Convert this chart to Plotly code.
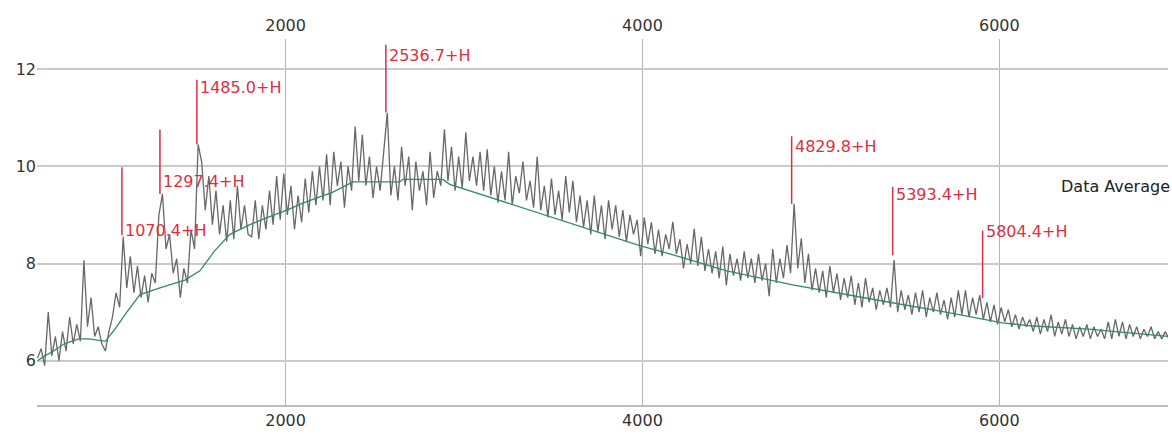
import plotly.graph_objects as go

# ---- data ----
mass_start = 610
mass_step = 20
intensity = [
    # 610 - 990
    6.05, 6.25, 5.9, 7.0, 6.1, 6.5, 6.0, 6.6, 6.2, 6.9,
    6.35, 6.75, 6.4, 8.07, 6.7, 7.3, 6.5, 6.7, 6.35, 6.2,
    # 1010 - 1390
    6.6, 6.9, 7.4, 7.1, 8.55, 7.5, 8.15, 7.4, 7.95, 7.3,
    7.75, 7.2, 7.8, 7.6, 9.0, 9.43, 8.3, 8.6, 7.8, 8.1,
    # 1410 - 1790
    7.3, 7.9, 7.6, 8.7, 8.3, 10.45, 10.08, 9.1, 9.8, 8.8,
    9.5, 8.6, 9.2, 8.45, 9.3, 8.5, 9.6, 8.7, 9.2, 8.6,
    # 1810 - 2190
    8.55, 9.3, 8.5, 9.2, 8.7, 9.5, 8.8, 9.8, 8.9, 9.85,
    9.0, 9.6, 8.7, 9.4, 8.85, 9.75, 9.05, 9.9, 9.2, 10.0,
    # 2210 - 2590
    9.3, 10.25, 9.2, 10.3, 9.6, 10.1, 9.15, 10.0, 9.5, 10.82,
    9.7, 10.65, 9.6, 10.2, 9.35, 10.0, 9.5, 10.3, 11.1, 9.4,
    # 2610 - 2990
    10.0, 9.3, 10.4, 9.6, 10.2, 9.1, 10.1, 9.5, 9.9, 9.2,
    10.3, 9.35, 9.9, 9.6, 10.76, 9.7, 10.4, 9.5, 10.2, 9.55,
    # 3010 - 3390
    10.7, 9.7, 10.2, 9.6, 10.3, 9.5, 10.35, 9.4, 10.0, 9.25,
    9.9, 9.3, 10.3, 9.2, 9.8, 9.45, 10.1, 9.3, 9.7, 9.15,
    # 3410 - 3790
    10.2, 9.1, 9.6, 8.95, 9.75, 9.0, 9.5, 8.9, 9.8, 9.05,
    9.7, 8.85, 9.4, 8.75, 9.3, 8.6, 9.4, 8.65, 9.2, 8.5,
    # 3810 - 4190
    9.3, 8.7, 9.2, 8.55, 9.1, 8.45, 9.0, 8.6, 8.9, 8.15,
    8.95, 8.4, 8.85, 8.2, 8.7, 8.15, 8.6, 8.3, 8.86, 8.2,
    # 4210 - 4590
    8.5, 7.9, 8.4, 8.0, 8.72, 7.95, 8.55, 7.85, 8.3, 7.8,
    8.25, 7.7, 8.35, 7.55, 8.2, 7.75, 8.1, 7.65, 8.25, 7.7,
    # 4610 - 4990
    8.1, 7.6, 8.2, 7.65, 8.0, 7.33, 8.3, 7.6, 8.1, 7.7,
    8.38, 7.8, 9.23, 7.9, 8.52, 7.6, 8.2, 7.45, 7.9, 7.4,
    # 5010 - 5390
    7.85, 7.3, 7.95, 7.4, 7.8, 7.25, 7.7, 7.3, 7.75, 7.15,
    7.6, 7.1, 7.7, 7.2, 7.5, 7.05, 7.45, 7.15, 7.5, 7.1,
    # 5410 - 5790
    8.07, 7.0, 7.45, 7.05, 7.35, 6.95, 7.4, 7.0, 7.45, 6.9,
    7.3, 7.0, 7.4, 6.95, 7.25, 6.85, 7.3, 6.9, 7.45, 6.95,
    # 5810 - 6190
    7.45, 6.9, 7.3, 6.95, 7.35, 6.85, 7.2, 6.8, 7.15, 6.75,
    7.1, 6.8, 7.05, 6.7, 6.95, 6.65, 6.9, 6.7, 6.85, 6.6,
    # 6210 - 6590
    6.9, 6.55, 6.85, 6.6, 6.95, 6.5, 6.8, 6.55, 6.85, 6.5,
    6.75, 6.45, 6.7, 6.5, 6.75, 6.45, 6.7, 6.5, 6.65, 6.45,
    # 6610 - 6950
    6.8, 6.45, 6.85, 6.5, 6.8, 6.45, 6.75, 6.5, 6.7, 6.45,
    6.65, 6.5, 6.7, 6.45, 6.6, 6.45, 6.6, 6.45,
]
mass = [mass_start + mass_step * i for i in range(len(intensity))]

avg_mass = [610, 650, 700, 760, 840, 900, 990, 1050, 1100, 1184, 1296,
            1436, 1520, 1600, 1688, 1800, 1900, 2007, 2100, 2265, 2377,
            2640, 2657, 2881, 2920, 3200, 3500, 3985, 4153, 4472, 4842,
            5032, 5329, 5700, 6018, 6170, 6500, 6945]
avg_value = [6.0, 6.1, 6.2, 6.35, 6.45, 6.45, 6.4, 6.68, 6.95, 7.36, 7.5,
             7.66, 7.85, 8.25, 8.6, 8.8, 8.95, 9.1, 9.25, 9.47, 9.68,
             9.68, 9.73, 9.73, 9.63, 9.3, 8.95, 8.37, 8.2, 7.85, 7.56,
             7.44, 7.24, 7.0, 6.78, 6.72, 6.65, 6.5]

peak_mass = [1083, 1296, 1503, 2562, 4836, 5402, 5906]
peak_low = [8.58, 9.43, 10.45, 11.11, 9.23, 8.17, 7.29]
peak_high = [9.98, 10.76, 11.78, 12.5, 10.62, 9.58, 8.68]
peak_labels = ["1070.4+H", "1297.4+H", "1485.0+H", "2536.7+H",
               "4829.8+H", "5393.4+H", "5804.4+H"]
label_y = [8.68, 9.68, 11.62, 12.29, 10.41, 9.43, 8.66]

x_ticks = [2000, 4000, 6000]
y_ticks = [6, 8, 10, 12]
x_range = [607, 6945]
y_range = [5.09, 12.62]

FONT = "DejaVu Sans"
RED = "#dc2f42"

fig = go.Figure()
fig.add_trace(go.Scatter(x=mass, y=intensity, mode="lines",
                         line=dict(color="#686868", width=1.3),
                         showlegend=False, hoverinfo="skip"))
fig.add_trace(go.Scatter(x=avg_mass, y=avg_value, mode="lines",
                         line=dict(color="#338a64", width=1.3),
                         showlegend=False, hoverinfo="skip"))

lx, ly = [], []
for m, lo, hi in zip(peak_mass, peak_low, peak_high):
    lx += [m, m, None]
    ly += [lo, hi, None]
fig.add_trace(go.Scatter(x=lx, y=ly, mode="lines",
                         line=dict(color=RED, width=1.5),
                         showlegend=False, hoverinfo="skip"))
# top axis carrier
fig.add_trace(go.Scatter(x=[], y=[], xaxis="x2", showlegend=False,
                         hoverinfo="skip"))

for m, t, yy in zip(peak_mass, peak_labels, label_y):
    fig.add_annotation(x=m, y=yy, text=t, showarrow=False, xanchor="left",
                       yanchor="middle", xshift=1,
                       font=dict(family=FONT, size=16, color=RED))

fig.add_annotation(xref="paper", x=1, y=9.58, text="Data Average",
                   showarrow=False, xanchor="right", yanchor="middle",
                   xshift=4, font=dict(family=FONT, size=16, color="#222"))

fig.update_layout(
    width=1172, height=434,
    margin=dict(l=37, r=4, t=39, b=26),
    paper_bgcolor="white", plot_bgcolor="white",
    font=dict(family=FONT, size=16, color="#333"),
    xaxis=dict(range=x_range, tickvals=x_ticks, showgrid=True,
               gridcolor="#b4b4b4", gridwidth=1, zeroline=False,
               showline=True, linecolor="#bdbdbd", linewidth=1.5,
               ticks="", tickfont=dict(family=FONT, size=16, color="#333")),
    xaxis2=dict(range=x_range, tickvals=x_ticks, overlaying="x",
                side="top", showgrid=False, zeroline=False, showline=False,
                ticks="", ticklabelstandoff=4,
                tickfont=dict(family=FONT, size=16, color="#333")),
    yaxis=dict(range=y_range, tickvals=y_ticks, showgrid=True,
               gridcolor="#cacaca", gridwidth=1.5, zeroline=False,
               showline=False, ticks="",
               tickfont=dict(family=FONT, size=16, color="#333")),
)

fig.write_html("out.html")
